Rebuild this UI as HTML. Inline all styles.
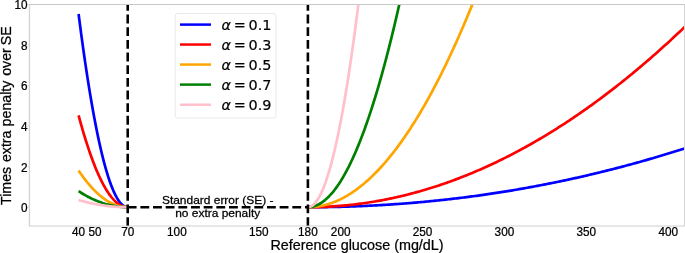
<!DOCTYPE html>
<html><head><meta charset="utf-8"><title>Penalty over SE</title>
<style>
html,body{margin:0;padding:0;background:#fff;}
svg{display:block}
.t{font-family:"Liberation Sans",sans-serif;fill:#000;stroke:#000;stroke-width:0.25px}
</style></head>
<body>
<svg width="685" height="253" viewBox="0 0 685 253">
<rect width="685" height="253" fill="#fff"/>
<defs><clipPath id="c"><rect x="29.45" y="4.5" width="655.15" height="221.5"/></clipPath></defs>
<g clip-path="url(#c)" fill="none" stroke-width="2.7" stroke-linecap="butt" stroke-linejoin="round">
<path d="M78.59,14.01 L79.41,20.39 L80.22,26.67 L81.04,32.84 L81.86,38.91 L82.68,44.86 L83.50,50.71 L84.32,56.46 L85.14,62.09 L85.96,67.62 L86.78,73.04 L87.59,78.35 L88.41,83.56 L89.23,88.65 L90.05,93.65 L90.87,98.53 L91.69,103.30 L92.51,107.97 L93.33,112.54 L94.15,116.99 L94.97,121.34 L95.78,125.58 L96.60,129.71 L97.42,133.73 L98.24,137.65 L99.06,141.46 L99.88,145.16 L100.70,148.76 L101.52,152.25 L102.34,155.63 L103.15,158.90 L103.97,162.07 L104.79,165.13 L105.61,168.08 L106.43,170.92 L107.25,173.66 L108.07,176.29 L108.89,178.81 L109.71,181.23 L110.52,183.53 L111.34,185.73 L112.16,187.83 L112.98,189.81 L113.80,191.69 L114.62,193.46 L115.44,195.13 L116.26,196.68 L117.08,198.13 L117.90,199.47 L118.71,200.71 L119.53,201.83 L120.35,202.85 L121.17,203.77 L121.99,204.57 L122.81,205.27 L123.63,205.86 L124.45,206.34 L125.27,206.72 L126.08,206.98 L126.90,207.15 L127.72,207.20" stroke="#0000ff"/>
<path d="M307.89,207.20 L309.53,207.20 L311.16,207.20 L312.80,207.19 L314.44,207.18 L316.08,207.17 L317.72,207.16 L319.35,207.15 L320.99,207.13 L322.63,207.11 L324.27,207.09 L325.91,207.07 L327.54,207.05 L329.18,207.02 L330.82,206.99 L332.46,206.96 L334.09,206.93 L335.73,206.90 L337.37,206.86 L339.01,206.82 L340.65,206.78 L342.28,206.74 L343.92,206.69 L345.56,206.64 L347.20,206.59 L348.84,206.54 L350.47,206.49 L352.11,206.43 L353.75,206.37 L355.39,206.31 L357.02,206.25 L358.66,206.19 L360.30,206.12 L361.94,206.05 L363.58,205.98 L365.21,205.91 L366.85,205.83 L368.49,205.75 L370.13,205.67 L371.77,205.59 L373.40,205.51 L375.04,205.42 L376.68,205.33 L378.32,205.24 L379.96,205.15 L381.59,205.06 L383.23,204.96 L384.87,204.86 L386.51,204.76 L388.14,204.65 L389.78,204.55 L391.42,204.44 L393.06,204.33 L394.70,204.22 L396.33,204.10 L397.97,203.99 L399.61,203.87 L401.25,203.75 L402.89,203.62 L404.52,203.50 L406.16,203.37 L407.80,203.24 L409.44,203.11 L411.07,202.98 L412.71,202.84 L414.35,202.70 L415.99,202.56 L417.63,202.42 L419.26,202.27 L420.90,202.13 L422.54,201.98 L424.18,201.82 L425.82,201.67 L427.45,201.51 L429.09,201.36 L430.73,201.20 L432.37,201.03 L434.01,200.87 L435.64,200.70 L437.28,200.53 L438.92,200.36 L440.56,200.18 L442.19,200.01 L443.83,199.83 L445.47,199.65 L447.11,199.47 L448.75,199.28 L450.38,199.09 L452.02,198.90 L453.66,198.71 L455.30,198.52 L456.94,198.32 L458.57,198.12 L460.21,197.92 L461.85,197.72 L463.49,197.51 L465.12,197.31 L466.76,197.10 L468.40,196.89 L470.04,196.67 L471.68,196.45 L473.31,196.24 L474.95,196.01 L476.59,195.79 L478.23,195.57 L479.87,195.34 L481.50,195.11 L483.14,194.87 L484.78,194.64 L486.42,194.40 L488.06,194.16 L489.69,193.92 L491.33,193.68 L492.97,193.43 L494.61,193.18 L496.24,192.93 L497.88,192.68 L499.52,192.43 L501.16,192.17 L502.80,191.91 L504.43,191.65 L506.07,191.38 L507.71,191.11 L509.35,190.85 L510.99,190.57 L512.62,190.30 L514.26,190.02 L515.90,189.75 L517.54,189.47 L519.17,189.18 L520.81,188.90 L522.45,188.61 L524.09,188.32 L525.73,188.03 L527.36,187.73 L529.00,187.44 L530.64,187.14 L532.28,186.84 L533.92,186.53 L535.55,186.23 L537.19,185.92 L538.83,185.61 L540.47,185.29 L542.10,184.98 L543.74,184.66 L545.38,184.34 L547.02,184.02 L548.66,183.69 L550.29,183.37 L551.93,183.04 L553.57,182.71 L555.21,182.37 L556.85,182.04 L558.48,181.70 L560.12,181.36 L561.76,181.01 L563.40,180.67 L565.04,180.32 L566.67,179.97 L568.31,179.61 L569.95,179.26 L571.59,178.90 L573.22,178.54 L574.86,178.18 L576.50,177.81 L578.14,177.45 L579.78,177.08 L581.41,176.71 L583.05,176.33 L584.69,175.96 L586.33,175.58 L587.97,175.19 L589.60,174.81 L591.24,174.43 L592.88,174.04 L594.52,173.65 L596.15,173.25 L597.79,172.86 L599.43,172.46 L601.07,172.06 L602.71,171.66 L604.34,171.25 L605.98,170.84 L607.62,170.43 L609.26,170.02 L610.90,169.60 L612.53,169.19 L614.17,168.77 L615.81,168.35 L617.45,167.92 L619.09,167.49 L620.72,167.07 L622.36,166.63 L624.00,166.20 L625.64,165.76 L627.27,165.32 L628.91,164.88 L630.55,164.44 L632.19,163.99 L633.83,163.54 L635.46,163.09 L637.10,162.64 L638.74,162.18 L640.38,161.72 L642.02,161.26 L643.65,160.80 L645.29,160.33 L646.93,159.87 L648.57,159.40 L650.20,158.92 L651.84,158.45 L653.48,157.97 L655.12,157.49 L656.76,157.01 L658.39,156.52 L660.03,156.03 L661.67,155.54 L663.31,155.05 L664.95,154.55 L666.58,154.06 L668.22,153.56 L669.86,153.05 L671.50,152.55 L673.13,152.04 L674.77,151.53 L676.41,151.02 L678.05,150.50 L679.69,149.99 L681.32,149.47 L682.96,148.95 L684.60,148.42" stroke="#0000ff"/>
<path d="M78.59,115.38 L79.41,118.42 L80.22,121.40 L81.04,124.33 L81.86,127.22 L82.68,130.05 L83.50,132.83 L84.32,135.56 L85.14,138.23 L85.96,140.86 L86.78,143.44 L87.59,145.96 L88.41,148.44 L89.23,150.86 L90.05,153.23 L90.87,155.55 L91.69,157.82 L92.51,160.04 L93.33,162.21 L94.15,164.33 L94.97,166.39 L95.78,168.41 L96.60,170.37 L97.42,172.28 L98.24,174.15 L99.06,175.96 L99.88,177.72 L100.70,179.43 L101.52,181.08 L102.34,182.69 L103.15,184.25 L103.97,185.75 L104.79,187.20 L105.61,188.61 L106.43,189.96 L107.25,191.26 L108.07,192.51 L108.89,193.71 L109.71,194.86 L110.52,195.95 L111.34,197.00 L112.16,197.99 L112.98,198.94 L113.80,199.83 L114.62,200.67 L115.44,201.46 L116.26,202.20 L117.08,202.89 L117.90,203.53 L118.71,204.11 L119.53,204.65 L120.35,205.13 L121.17,205.57 L121.99,205.95 L122.81,206.28 L123.63,206.56 L124.45,206.79 L125.27,206.97 L126.08,207.10 L126.90,207.17 L127.72,207.20" stroke="#ff0000"/>
<path d="M307.89,207.20 L309.53,207.20 L311.16,207.19 L312.80,207.17 L314.44,207.15 L316.08,207.11 L317.72,207.08 L319.35,207.03 L320.99,206.98 L322.63,206.92 L324.27,206.86 L325.91,206.79 L327.54,206.71 L329.18,206.62 L330.82,206.53 L332.46,206.43 L334.09,206.33 L335.73,206.22 L337.37,206.10 L339.01,205.97 L340.65,205.84 L342.28,205.70 L343.92,205.55 L345.56,205.40 L347.20,205.24 L348.84,205.07 L350.47,204.90 L352.11,204.72 L353.75,204.53 L355.39,204.34 L357.02,204.13 L358.66,203.93 L360.30,203.71 L361.94,203.49 L363.58,203.26 L365.21,203.03 L366.85,202.79 L368.49,202.54 L370.13,202.28 L371.77,202.02 L373.40,201.75 L375.04,201.48 L376.68,201.19 L378.32,200.90 L379.96,200.61 L381.59,200.30 L383.23,199.99 L384.87,199.68 L386.51,199.35 L388.14,199.02 L389.78,198.69 L391.42,198.34 L393.06,197.99 L394.70,197.63 L396.33,197.27 L397.97,196.90 L399.61,196.52 L401.25,196.14 L402.89,195.74 L404.52,195.35 L406.16,194.94 L407.80,194.53 L409.44,194.11 L411.07,193.68 L412.71,193.25 L414.35,192.81 L415.99,192.37 L417.63,191.91 L419.26,191.45 L420.90,190.99 L422.54,190.51 L424.18,190.03 L425.82,189.55 L427.45,189.05 L429.09,188.55 L430.73,188.04 L432.37,187.53 L434.01,187.01 L435.64,186.48 L437.28,185.95 L438.92,185.41 L440.56,184.86 L442.19,184.30 L443.83,183.74 L445.47,183.17 L447.11,182.60 L448.75,182.01 L450.38,181.42 L452.02,180.83 L453.66,180.23 L455.30,179.62 L456.94,179.00 L458.57,178.38 L460.21,177.75 L461.85,177.11 L463.49,176.47 L465.12,175.82 L466.76,175.16 L468.40,174.49 L470.04,173.82 L471.68,173.15 L473.31,172.46 L474.95,171.77 L476.59,171.07 L478.23,170.37 L479.87,169.66 L481.50,168.94 L483.14,168.21 L484.78,167.48 L486.42,166.74 L488.06,165.99 L489.69,165.24 L491.33,164.48 L492.97,163.72 L494.61,162.94 L496.24,162.16 L497.88,161.38 L499.52,160.58 L501.16,159.78 L502.80,158.98 L504.43,158.16 L506.07,157.34 L507.71,156.51 L509.35,155.68 L510.99,154.84 L512.62,153.99 L514.26,153.14 L515.90,152.27 L517.54,151.41 L519.17,150.53 L520.81,149.65 L522.45,148.76 L524.09,147.86 L525.73,146.96 L527.36,146.05 L529.00,145.14 L530.64,144.21 L532.28,143.28 L533.92,142.35 L535.55,141.40 L537.19,140.45 L538.83,139.50 L540.47,138.53 L542.10,137.56 L543.74,136.59 L545.38,135.60 L547.02,134.61 L548.66,133.61 L550.29,132.61 L551.93,131.60 L553.57,130.58 L555.21,129.55 L556.85,128.52 L558.48,127.48 L560.12,126.44 L561.76,125.39 L563.40,124.33 L565.04,123.26 L566.67,122.19 L568.31,121.11 L569.95,120.02 L571.59,118.93 L573.22,117.83 L574.86,116.72 L576.50,115.61 L578.14,114.49 L579.78,113.36 L581.41,112.23 L583.05,111.09 L584.69,109.94 L586.33,108.78 L587.97,107.62 L589.60,106.46 L591.24,105.28 L592.88,104.10 L594.52,102.91 L596.15,101.72 L597.79,100.51 L599.43,99.30 L601.07,98.09 L602.71,96.87 L604.34,95.64 L605.98,94.40 L607.62,93.16 L609.26,91.91 L610.90,90.65 L612.53,89.39 L614.17,88.12 L615.81,86.84 L617.45,85.56 L619.09,84.27 L620.72,82.97 L622.36,81.66 L624.00,80.35 L625.64,79.04 L627.27,77.71 L628.91,76.38 L630.55,75.04 L632.19,73.70 L633.83,72.34 L635.46,70.99 L637.10,69.62 L638.74,68.25 L640.38,66.87 L642.02,65.48 L643.65,64.09 L645.29,62.69 L646.93,61.28 L648.57,59.87 L650.20,58.45 L651.84,57.02 L653.48,55.59 L655.12,54.15 L656.76,52.70 L658.39,51.25 L660.03,49.79 L661.67,48.32 L663.31,46.84 L664.95,45.36 L666.58,43.88 L668.22,42.38 L669.86,40.88 L671.50,39.37 L673.13,37.85 L674.77,36.33 L676.41,34.80 L678.05,33.27 L679.69,31.73 L681.32,30.18 L682.96,28.62 L684.60,27.06" stroke="#ff0000"/>
<path d="M78.59,170.51 L79.41,171.73 L80.22,172.92 L81.04,174.09 L81.86,175.24 L82.68,176.37 L83.50,177.48 L84.32,178.57 L85.14,179.64 L85.96,180.69 L86.78,181.72 L87.59,182.73 L88.41,183.72 L89.23,184.69 L90.05,185.64 L90.87,186.56 L91.69,187.47 L92.51,188.36 L93.33,189.22 L94.15,190.07 L94.97,190.89 L95.78,191.70 L96.60,192.48 L97.42,193.25 L98.24,193.99 L99.06,194.72 L99.88,195.42 L100.70,196.10 L101.52,196.76 L102.34,197.41 L103.15,198.03 L103.97,198.63 L104.79,199.21 L105.61,199.77 L106.43,200.31 L107.25,200.83 L108.07,201.33 L108.89,201.81 L109.71,202.27 L110.52,202.71 L111.34,203.12 L112.16,203.52 L112.98,203.90 L113.80,204.25 L114.62,204.59 L115.44,204.91 L116.26,205.20 L117.08,205.48 L117.90,205.73 L118.71,205.97 L119.53,206.18 L120.35,206.37 L121.17,206.55 L121.99,206.70 L122.81,206.83 L123.63,206.94 L124.45,207.04 L125.27,207.11 L126.08,207.16 L126.90,207.19 L127.72,207.20" stroke="#ffa500"/>
<path d="M307.89,207.20 L309.53,207.18 L311.16,207.12 L312.80,207.02 L314.44,206.88 L316.08,206.70 L317.72,206.48 L319.35,206.21 L320.99,205.91 L322.63,205.57 L324.27,205.19 L325.91,204.77 L327.54,204.30 L329.18,203.80 L330.82,203.26 L332.46,202.68 L334.09,202.05 L335.73,201.39 L337.37,200.68 L339.01,199.94 L340.65,199.16 L342.28,198.33 L343.92,197.47 L345.56,196.56 L347.20,195.62 L348.84,194.63 L350.47,193.61 L352.11,192.54 L353.75,191.44 L355.39,190.29 L357.02,189.10 L358.66,187.88 L360.30,186.61 L361.94,185.30 L363.58,183.95 L365.21,182.57 L366.85,181.14 L368.49,179.67 L370.13,178.16 L371.77,176.62 L373.40,175.03 L375.04,173.40 L376.68,171.73 L378.32,170.02 L379.96,168.27 L381.59,166.48 L383.23,164.65 L384.87,162.78 L386.51,160.87 L388.14,158.92 L389.78,156.93 L391.42,154.90 L393.06,152.83 L394.70,150.72 L396.33,148.57 L397.97,146.37 L399.61,144.14 L401.25,141.87 L402.89,139.56 L404.52,137.20 L406.16,134.81 L407.80,132.38 L409.44,129.91 L411.07,127.39 L412.71,124.84 L414.35,122.24 L415.99,119.61 L417.63,116.94 L419.26,114.22 L420.90,111.47 L422.54,108.67 L424.18,105.84 L425.82,102.96 L427.45,100.05 L429.09,97.09 L430.73,94.09 L432.37,91.06 L434.01,87.98 L435.64,84.86 L437.28,81.71 L438.92,78.51 L440.56,75.27 L442.19,71.99 L443.83,68.68 L445.47,65.32 L447.11,61.92 L448.75,58.48 L450.38,55.00 L452.02,51.48 L453.66,47.93 L455.30,44.33 L456.94,40.69 L458.57,37.01 L460.21,33.29 L461.85,29.53 L463.49,25.73 L465.12,21.89 L466.76,18.01 L468.40,14.08 L470.04,10.12 L471.68,6.12 L473.31,2.08 L474.95,-2.00 L476.59,-6.12 L478.23,-10.29 L479.87,-14.49" stroke="#ffa500"/>
<path d="M78.59,191.18 L79.41,191.71 L80.22,192.23 L81.04,192.74 L81.86,193.25 L82.68,193.74 L83.50,194.23 L84.32,194.70 L85.14,195.17 L85.96,195.63 L86.78,196.08 L87.59,196.52 L88.41,196.95 L89.23,197.37 L90.05,197.78 L90.87,198.19 L91.69,198.59 L92.51,198.97 L93.33,199.35 L94.15,199.72 L94.97,200.08 L95.78,200.43 L96.60,200.77 L97.42,201.11 L98.24,201.43 L99.06,201.75 L99.88,202.06 L100.70,202.35 L101.52,202.64 L102.34,202.92 L103.15,203.20 L103.97,203.46 L104.79,203.71 L105.61,203.96 L106.43,204.19 L107.25,204.42 L108.07,204.64 L108.89,204.85 L109.71,205.05 L110.52,205.24 L111.34,205.42 L112.16,205.59 L112.98,205.76 L113.80,205.91 L114.62,206.06 L115.44,206.20 L116.26,206.33 L117.08,206.45 L117.90,206.56 L118.71,206.66 L119.53,206.75 L120.35,206.84 L121.17,206.91 L121.99,206.98 L122.81,207.04 L123.63,207.09 L124.45,207.13 L125.27,207.16 L126.08,207.18 L126.90,207.20 L127.72,207.20" stroke="#008000"/>
<path d="M307.89,207.20 L309.53,207.13 L311.16,206.94 L312.80,206.61 L314.44,206.16 L316.08,205.57 L317.72,204.86 L319.35,204.01 L320.99,203.03 L322.63,201.93 L324.27,200.69 L325.91,199.32 L327.54,197.82 L329.18,196.20 L330.82,194.44 L332.46,192.55 L334.09,190.53 L335.73,188.38 L337.37,186.10 L339.01,183.70 L340.65,181.16 L342.28,178.49 L343.92,175.69 L345.56,172.76 L347.20,169.70 L348.84,166.51 L350.47,163.19 L352.11,159.74 L353.75,156.16 L355.39,152.44 L357.02,148.60 L358.66,144.63 L360.30,140.53 L361.94,136.30 L363.58,131.94 L365.21,127.44 L366.85,122.82 L368.49,118.07 L370.13,113.18 L371.77,108.17 L373.40,103.03 L375.04,97.75 L376.68,92.35 L378.32,86.82 L379.96,81.15 L381.59,75.36 L383.23,69.43 L384.87,63.38 L386.51,57.19 L388.14,50.88 L389.78,44.43 L391.42,37.86 L393.06,31.15 L394.70,24.31 L396.33,17.35 L397.97,10.25 L399.61,3.02 L401.25,-4.33 L402.89,-11.82" stroke="#008000"/>
<path d="M78.59,200.01 L79.41,200.25 L80.22,200.48 L81.04,200.71 L81.86,200.94 L82.68,201.16 L83.50,201.38 L84.32,201.59 L85.14,201.80 L85.96,202.01 L86.78,202.21 L87.59,202.41 L88.41,202.60 L89.23,202.79 L90.05,202.97 L90.87,203.16 L91.69,203.33 L92.51,203.51 L93.33,203.68 L94.15,203.84 L94.97,204.01 L95.78,204.16 L96.60,204.32 L97.42,204.47 L98.24,204.61 L99.06,204.75 L99.88,204.89 L100.70,205.03 L101.52,205.16 L102.34,205.28 L103.15,205.40 L103.97,205.52 L104.79,205.63 L105.61,205.74 L106.43,205.85 L107.25,205.95 L108.07,206.05 L108.89,206.14 L109.71,206.23 L110.52,206.32 L111.34,206.40 L112.16,206.48 L112.98,206.55 L113.80,206.62 L114.62,206.69 L115.44,206.75 L116.26,206.81 L117.08,206.86 L117.90,206.91 L118.71,206.96 L119.53,207.00 L120.35,207.04 L121.17,207.07 L121.99,207.10 L122.81,207.13 L123.63,207.15 L124.45,207.17 L125.27,207.18 L126.08,207.19 L126.90,207.20 L127.72,207.20" stroke="#ffc0cb"/>
<path d="M307.89,207.20 L309.53,206.99 L311.16,206.35 L312.80,205.28 L314.44,203.78 L316.08,201.86 L317.72,199.51 L319.35,196.73 L320.99,193.53 L322.63,189.89 L324.27,185.84 L325.91,181.35 L327.54,176.43 L329.18,171.09 L330.82,165.33 L332.46,159.13 L334.09,152.51 L335.73,145.46 L337.37,137.98 L339.01,130.07 L340.65,121.74 L342.28,112.98 L343.92,103.80 L345.56,94.18 L347.20,84.14 L348.84,73.67 L350.47,62.78 L352.11,51.45 L353.75,39.70 L355.39,27.52 L357.02,14.92 L358.66,1.89 L360.30,-11.57" stroke="#ffc0cb"/>
</g>
<g clip-path="url(#c)" fill="none" stroke="#000" stroke-width="2.6" stroke-dasharray="8.85 3.81">
<path d="M127.72,226.0 L127.72,4.5"/>
<path d="M307.89,226.0 L307.89,4.5"/>
<path d="M127.72,207.20 L307.89,207.20"/>
</g>
<g fill="none">
<path d="M28.849999999999998,4.5 H685" stroke="#c8c8c8" stroke-width="1"/>
<path d="M28.849999999999998,226.0 H685" stroke="#cfcfcf" stroke-width="1.2"/>
<path d="M29.45,4.5 V226.0" stroke="#d2d2d2" stroke-width="1.3"/>
<path d="M684.6,4.5 V226.0" stroke="#d2d2d2" stroke-width="1.1"/>
<path d="M78.59,226.5 v1.4" stroke="#d9d9d9" stroke-width="1"/>
<path d="M94.97,226.5 v1.4" stroke="#d9d9d9" stroke-width="1"/>
<path d="M127.72,226.5 v1.4" stroke="#d9d9d9" stroke-width="1"/>
<path d="M176.86,226.5 v1.4" stroke="#d9d9d9" stroke-width="1"/>
<path d="M258.75,226.5 v1.4" stroke="#d9d9d9" stroke-width="1"/>
<path d="M307.89,226.5 v1.4" stroke="#d9d9d9" stroke-width="1"/>
<path d="M340.65,226.5 v1.4" stroke="#d9d9d9" stroke-width="1"/>
<path d="M422.54,226.5 v1.4" stroke="#d9d9d9" stroke-width="1"/>
<path d="M504.43,226.5 v1.4" stroke="#d9d9d9" stroke-width="1"/>
<path d="M586.33,226.5 v1.4" stroke="#d9d9d9" stroke-width="1"/>
<path d="M668.22,226.5 v1.4" stroke="#d9d9d9" stroke-width="1"/>
<path d="M28.95,207.20 h-1.4" stroke="#d9d9d9" stroke-width="1"/>
<path d="M28.95,166.66 h-1.4" stroke="#d9d9d9" stroke-width="1"/>
<path d="M28.95,126.12 h-1.4" stroke="#d9d9d9" stroke-width="1"/>
<path d="M28.95,85.58 h-1.4" stroke="#d9d9d9" stroke-width="1"/>
<path d="M28.95,45.04 h-1.4" stroke="#d9d9d9" stroke-width="1"/>
<path d="M28.95,4.50 h-1.4" stroke="#d9d9d9" stroke-width="1"/>
</g>
<g class="t" font-size="12.0">
<text transform="translate(78.59,236.1) scale(0.98,1)" text-anchor="middle">40</text>
<text transform="translate(94.97,236.1) scale(0.98,1)" text-anchor="middle">50</text>
<text transform="translate(127.72,236.1) scale(0.98,1)" text-anchor="middle">70</text>
<text transform="translate(176.86,236.1) scale(0.98,1)" text-anchor="middle">100</text>
<text transform="translate(258.75,236.1) scale(0.98,1)" text-anchor="middle">150</text>
<text transform="translate(307.89,236.1) scale(0.98,1)" text-anchor="middle">180</text>
<text transform="translate(340.65,236.1) scale(0.98,1)" text-anchor="middle">200</text>
<text transform="translate(422.54,236.1) scale(0.98,1)" text-anchor="middle">250</text>
<text transform="translate(504.43,236.1) scale(0.98,1)" text-anchor="middle">300</text>
<text transform="translate(586.33,236.1) scale(0.98,1)" text-anchor="middle">350</text>
<text transform="translate(668.22,236.1) scale(0.98,1)" text-anchor="middle">400</text>
<text transform="translate(27.6,212.10) scale(0.98,1)" text-anchor="end">0</text>
<text transform="translate(27.6,171.56) scale(0.98,1)" text-anchor="end">2</text>
<text transform="translate(27.6,131.02) scale(0.98,1)" text-anchor="end">4</text>
<text transform="translate(27.6,90.48) scale(0.98,1)" text-anchor="end">6</text>
<text transform="translate(27.6,49.94) scale(0.98,1)" text-anchor="end">8</text>
<text transform="translate(27.6,9.40) scale(0.98,1)" text-anchor="end">10</text>
</g>
<g class="t">
<text font-size="15.3" transform="translate(357.0,249.7) scale(0.94,1)" text-anchor="middle">Reference glucose (mg/dL)</text>
<text font-size="14.6" transform="translate(10.9,205.03) rotate(-90) scale(0.975,1)" text-anchor="start">Times <tspan dx="0.8">extra</tspan> <tspan dx="0.1">penalty</tspan> <tspan dx="0.8">over</tspan> <tspan dx="-1.2">SE</tspan></text>
</g>
<g class="t" font-size="11.4" text-anchor="middle">
<text transform="translate(217.7,204.4) scale(1.05,1)">Standard error (SE) -</text>
<text transform="translate(217.7,217.1) scale(1.05,1)">no extra penalty</text>
</g>
<rect x="175.2" y="13.5" width="100.8" height="104.5" rx="2.6" ry="2.6" fill="#fff" fill-opacity="0.8" stroke="#cccccc" stroke-opacity="0.45" stroke-width="1"/>
<g font-family="'DejaVu Sans',sans-serif" font-size="14.4" fill="#000" stroke="#000" stroke-width="0.2">
<line x1="180" x2="211" y1="24.6" y2="24.6" stroke="#0000ff" stroke-width="2.5"/>
<text y="29.60"><tspan x="221.5" font-style="italic">α</tspan><tspan x="233.7">=</tspan><tspan x="248.5">0.1</tspan></text>
<line x1="180" x2="211" y1="44.55" y2="44.55" stroke="#ff0000" stroke-width="2.5"/>
<text y="49.55"><tspan x="221.5" font-style="italic">α</tspan><tspan x="233.7">=</tspan><tspan x="248.5">0.3</tspan></text>
<line x1="180" x2="211" y1="64.55" y2="64.55" stroke="#ffa500" stroke-width="2.5"/>
<text y="69.55"><tspan x="221.5" font-style="italic">α</tspan><tspan x="233.7">=</tspan><tspan x="248.5">0.5</tspan></text>
<line x1="180" x2="211" y1="84.6" y2="84.6" stroke="#008000" stroke-width="2.5"/>
<text y="89.60"><tspan x="221.5" font-style="italic">α</tspan><tspan x="233.7">=</tspan><tspan x="248.5">0.7</tspan></text>
<line x1="180" x2="211" y1="104.75" y2="104.75" stroke="#ffc0cb" stroke-width="2.5"/>
<text y="109.75"><tspan x="221.5" font-style="italic">α</tspan><tspan x="233.7">=</tspan><tspan x="248.5">0.9</tspan></text>
</g>
</svg>
</body></html>
